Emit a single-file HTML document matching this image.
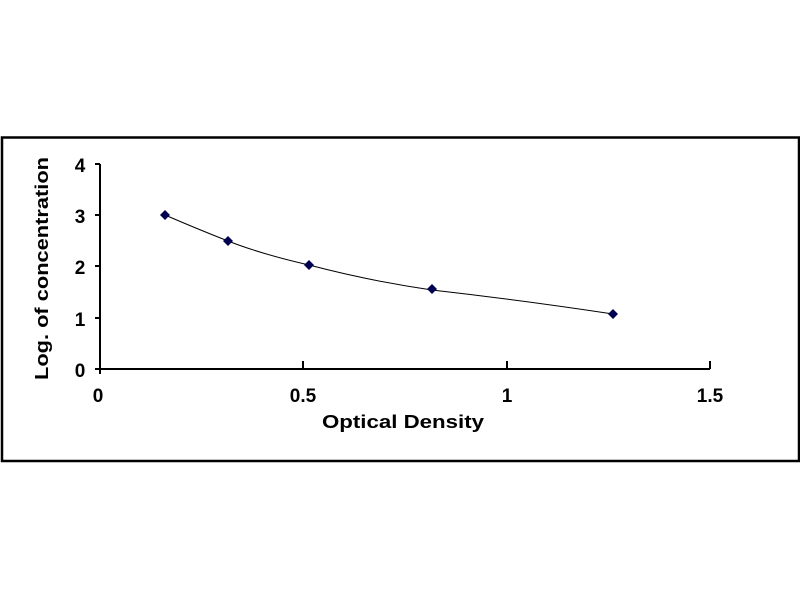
<!DOCTYPE html>
<html><head><style>body{margin:0;background:#fff}</style></head><body>
<svg width="800" height="600" xmlns="http://www.w3.org/2000/svg" font-family="Liberation Sans, sans-serif" font-weight="bold">
<rect x="0" y="0" width="800" height="600" fill="#fff"/>
<rect x="2" y="137.5" width="797" height="323.5" fill="none" stroke="#000" stroke-width="2.5"/>
<g stroke="#000" stroke-width="2" fill="none">
<path d="M100,164 V369 H710"/>
<path d="M95,164H100M95,215H100M95,266H100M95,318H100M95,369H100"/>
<path d="M100,369V374M303,361V369M507,361V369M710,361V369"/>
</g>
<g font-size="19" text-anchor="middle" fill="#000">
<text x="80" y="172">4</text><text x="80" y="223">3</text><text x="80" y="274">2</text><text x="80" y="326">1</text><text x="80" y="377">0</text>
<text x="98" y="402">0</text><text x="303" y="402">0.5</text><text x="507" y="402">1</text><text x="710" y="402">1.5</text>
</g>
<g font-size="18" fill="#000">
<text x="322" y="428" textLength="162" lengthAdjust="spacingAndGlyphs">Optical Density</text>
<text transform="translate(48,380) rotate(-90)" textLength="223" lengthAdjust="spacingAndGlyphs">Log. of concentration</text>
</g>
<path d="M165,215 Q195,228 228,241 T309,265 Q370,281 432,290 Q520,300 613,314" stroke="#000" stroke-width="1" fill="none"/>
<g fill="#000050">
<path d="M165,210l5,5l-5,5l-5,-5z"/><path d="M228,236l5,5l-5,5l-5,-5z"/><path d="M309,260l5,5l-5,5l-5,-5z"/><path d="M432,284l5,5l-5,5l-5,-5z"/><path d="M613,309l5,5l-5,5l-5,-5z"/>
</g>
</svg>
</body></html>
